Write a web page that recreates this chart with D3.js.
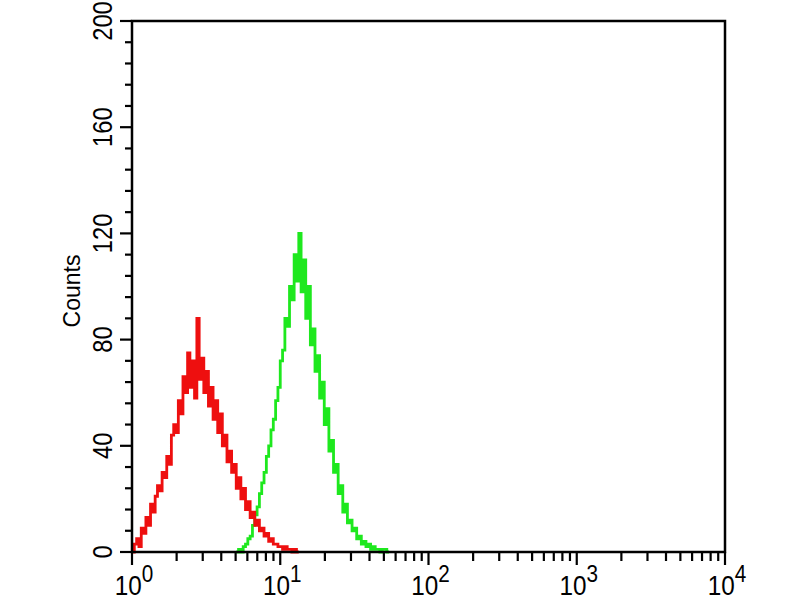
<!DOCTYPE html>
<html>
<head>
<meta charset="utf-8">
<script src="https://cdn.jsdelivr.net/npm/d3@7"></script>
<style>
  body { margin: 0; background: #fff; }
  text { font-family: "Liberation Sans", Arial, sans-serif; fill: #000; }
</style>
</head>
<body>
<script>
// histogram data: 256 channels spread over 4 decades
var nChannels = 256;
var decades = 4;

// red (control) histogram, counts starting at channel 0
var redStart = 0;
var redCounts = [0, 3, 5, 2, 9, 7, 13, 10, 18, 15, 21, 25, 23, 30, 28, 36, 33, 44, 48, 45,
                 57, 52, 66, 60, 75, 62, 72, 58, 88, 65, 73, 60, 68, 55, 62, 50, 57, 45, 52, 40,
                 44, 34, 38, 30, 33, 24, 28, 20, 24, 16, 19, 13, 15, 10, 12, 8, 9, 6, 7, 4,
                 5, 3, 3, 2, 2, 1, 2, 1, 1, 0, 1, 0, 0];

// green (stained) histogram, counts starting at channel 45
var greenStart = 45;
var greenCounts = [0, 1, 0, 2, 3, 5, 6, 10, 14, 17, 22, 26, 30, 36, 40, 46, 50, 57, 62, 72,
                   76, 88, 85, 100, 95, 112, 102, 120, 98, 110, 88, 100, 78, 84, 68, 74, 58, 64, 48, 54,
                   38, 42, 30, 33, 22, 25, 15, 18, 11, 12, 8, 9, 5, 6, 3, 4, 2, 3, 1, 2,
                   1, 1, 0, 1, 1, 0, 0];

// axis ticks
var yMajor = [0, 40, 80, 120, 160, 200];
var yMinorStep = 8;
var xMajor = [1, 10, 100, 1000, 10000];
var xExponents = ['0', '1', '2', '3', '4'];

var redColor = '#ee0f0f';
var greenColor = '#1ee81e';

var svg = d3.select('body').append('svg')
            .attr('width', 800)
            .attr('height', 600);

var plotLeft = 132, plotRight = 725, plotTop = 21, plotBottom = 552;

var xScale = d3.scaleLog().domain([1, 10000]).range([plotLeft, plotRight]);
var yScale = d3.scaleLinear().domain([0, 200]).range([plotBottom, plotTop]);

function channelValue(ch) {
  return Math.pow(10, ch * decades / nChannels);
}

function histData(start, counts) {
  return counts.map(function(c, i) { return {ch: start + i, count: c}; });
}

var line = d3.line()
             .x(function(d) { return xScale(channelValue(d.ch)); })
             .y(function(d) { return yScale(d.count); })
             .curve(d3.curveStepAfter);

var plot = svg.append('g');

plot.append('path')
    .datum(histData(greenStart, greenCounts))
    .attr('d', line)
    .attr('fill', 'none')
    .attr('stroke', greenColor)
    .attr('stroke-width', 2.8);

plot.append('path')
    .datum(histData(redStart, redCounts))
    .attr('d', line)
    .attr('fill', 'none')
    .attr('stroke', redColor)
    .attr('stroke-width', 2.8);

// frame
svg.append('rect')
   .attr('x', plotLeft)
   .attr('y', plotTop)
   .attr('width', plotRight - plotLeft)
   .attr('height', plotBottom - plotTop)
   .attr('fill', 'none')
   .attr('stroke', '#000')
   .attr('stroke-width', 2.5);

// y ticks
var yTicks = d3.range(0, 201, yMinorStep);
svg.append('g').selectAll('line')
   .data(yTicks)
   .enter().append('line')
   .attr('x1', plotLeft)
   .attr('x2', function(d) { return yMajor.indexOf(d) >= 0 ? plotLeft - 12 : plotLeft - 7; })
   .attr('y1', function(d) { return yScale(d); })
   .attr('y2', function(d) { return yScale(d); })
   .attr('stroke', '#000')
   .attr('stroke-width', 2.2);

svg.append('g').selectAll('text')
   .data(yMajor)
   .enter().append('text')
   .attr('text-anchor', 'middle')
   .attr('font-size', 27)
   .attr('transform', function(d) {
     return 'translate(' + 112 + ',' + yScale(d) + ')rotate(-90)scale(0.88,1)';
   })
   .text(function(d) { return d; });

// x ticks: decades plus 2..9 inside each decade
var xTicks = [];
xMajor.forEach(function(v, i) {
  xTicks.push({v: v, major: true});
  if (i < xMajor.length - 1) {
    for (var k = 2; k <= 9; k++) xTicks.push({v: v * k, major: false});
  }
});

svg.append('g').selectAll('line')
   .data(xTicks)
   .enter().append('line')
   .attr('x1', function(d) { return xScale(d.v); })
   .attr('x2', function(d) { return xScale(d.v); })
   .attr('y1', plotBottom)
   .attr('y2', function(d) { return d.major ? plotBottom + 13 : plotBottom + 9; })
   .attr('stroke', '#000')
   .attr('stroke-width', 2.2);

var xLabels = svg.append('g').selectAll('text')
   .data(xMajor)
   .enter().append('text')
   .attr('text-anchor', 'middle')
   .attr('font-size', 27)
   .attr('transform', function(d) {
     return 'translate(' + (xScale(d) + 2) + ',' + 595 + ')scale(0.9,1)';
   });

xLabels.append('tspan').text('10');
xLabels.append('tspan')
       .attr('dy', -13)
       .attr('font-size', 23)
       .text(function(d, i) { return xExponents[i]; });

// axis title
svg.append('text')
   .attr('text-anchor', 'middle')
   .attr('font-size', 23)
   .attr('transform', 'translate(80,291)rotate(-90)')
   .text('Counts');
</script>
</body>
</html>
